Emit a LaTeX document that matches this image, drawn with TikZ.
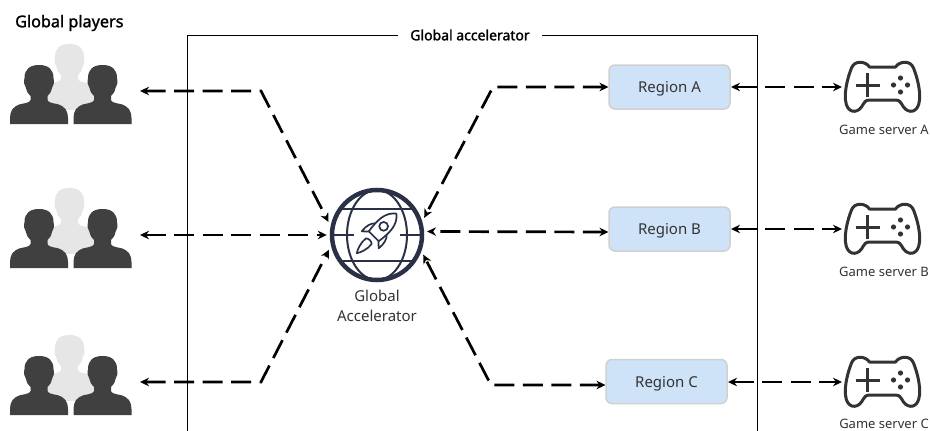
\documentclass[tikz,border=0pt]{standalone}
\usepackage{fontspec}
\setmainfont{Noto Sans}
\newfontfamily\heavyfont{Noto Sans}[FakeBold=1.6]
\usetikzlibrary{arrows.meta}
\definecolor{txt}{HTML}{333333}
\definecolor{dark}{HTML}{404040}
\definecolor{light}{HTML}{E6E6E6}
\definecolor{navy}{HTML}{2A3045}
\definecolor{regfill}{HTML}{CFE3F8}
\definecolor{regline}{HTML}{D0D0D0}
\tikzset{
  x=1pt,y=-1pt,
  link/.style={line width=2.7pt,dash pattern=on 20pt off 8.5pt,black,{Stealth[length=9pt,width=8.5pt]}-{Stealth[length=9pt,width=8.5pt]}},
  regionbox/.style={draw=regline,line width=1.5pt,fill=regfill,rounded corners=6pt,minimum width=121pt,minimum height=44pt,inner sep=0pt,text=txt,text height=13pt,text depth=2pt,font=\fontsize{15pt}{17pt}\selectfont},
  caption/.style={text=txt,font=\fontsize{13pt}{15pt}\selectfont,inner sep=0pt},
  boldlabel/.style={text=black,font=\heavyfont\fontsize{14pt}{16pt}\selectfont,inner sep=0pt},
  person/.pic={
    \fill (0,-59) .. controls (10,-59) and (14.5,-54) .. (14.5,-46) .. controls (15.5,-42) and (15,-39) .. (13,-36) .. controls (12,-32) and (11,-30) .. (8.5,-28) -- (8.5,-24) .. controls (9,-22) and (12,-21) .. (18,-20) .. controls (26,-18) and (29,-13) .. (29,-6) -- (29,0) -- (-29,0) -- (-29,-6) .. controls (-29,-13) and (-26,-18) .. (-18,-20) .. controls (-12,-21) and (-9,-22) .. (-8.5,-24) -- (-8.5,-28) .. controls (-11,-30) and (-12,-32) .. (-13,-36) .. controls (-15,-39) and (-15.5,-42) .. (-14.5,-46) .. controls (-14.5,-54) and (-10,-59) .. (0,-59) -- cycle;
  },
  crowd/.pic={
    \begin{scope}[shift={(69.5,-21)}]
      \pic[light] {person};
    \end{scope}
    \fill[light] (42,-24) rectangle (97,-14);
    \begin{scope}[shift={(39,0)}] \pic[dark] {person}; \end{scope}
    \begin{scope}[shift={(102.5,0)}] \pic[dark] {person}; \end{scope}
  },
  gamepad/.pic={
    \draw[txt,line width=3pt,line join=round] (-13,-20) -- (13,-20) .. controls (17,-26) and (28,-27) .. (31,-19) .. controls (35,-9) and (38,4) .. (37,13) .. controls (36,26) and (26,27) .. (21,20) .. controls (18,15) and (17,13) .. (13,13) -- (-13,13) .. controls (-17,13) and (-18,15) .. (-21,20) .. controls (-26,27) and (-36,26) .. (-37,13) .. controls (-38,4) and (-35,-9) .. (-31,-19) .. controls (-28,-27) and (-17,-26) .. (-13,-20) -- cycle;
    \draw[txt,line width=3pt] (-27,-2) -- (-3,-2) (-15,-14) -- (-15,10);
    \fill[txt] (18,-9) circle (2.6) (18,5) circle (2.6) (11,-2) circle (2.6) (25,-2) circle (2.6);
  }
}
\begin{document}
\begin{tikzpicture}
\useasboundingbox (0,0) rectangle (930,431);
\fill[white] (0,0) rectangle (930,431);

% frame
\draw[black,line width=1pt] (187,431) -- (187,35) -- (757,35) -- (757,431);
\node[boldlabel,fill=white,inner xsep=12pt,inner ysep=2pt] (frametitle) at (470,35) {Global accelerator};
\node[boldlabel,anchor=west,font=\heavyfont\fontsize{16.2pt}{18pt}\selectfont] (playerstitle) at (15,23) {Global players};

% players
\pic at (0,124) {crowd};
\pic at (0,268) {crowd};
\pic at (0,415) {crowd};

% globe
\node[circle,minimum size=100pt,inner sep=0pt] (ga) at (377,235) {};
\begin{scope}[shift={(377,235)}]
  \draw[navy,line width=1.8pt] (-37,-26) -- (37,-26) (-37,26) -- (37,26) (-44,0) -- (-23,0) (23,0) -- (44,0);
  \draw[navy,line width=2pt] (0,0) ellipse (30 and 45);
  \draw[navy,line width=4.5pt,fill=none] (0,0) circle (45);
  \begin{scope}[shift={(1,-3)},rotate=-45,line width=1.7pt,navy,line join=round]
    \draw (0,-26) .. controls (9,-19) and (9,-8) .. (7,6) -- (-7,6) .. controls (-9,-8) and (-9,-19) .. (0,-26) -- cycle;
    \draw (-8,-4) .. controls (-11,-2) and (-13,4) .. (-12,11) -- (-6.5,6) (8,-4) .. controls (11,-2) and (13,4) .. (12,11) -- (6.5,6);
    \draw (0,-8) circle (4.4);
    \draw (-4,13) .. controls (-5,20) and (-2,27) .. (0,30) .. controls (2,27) and (5,20) .. (4,13) .. controls (2,11) and (-2,11) .. (-4,13) -- cycle;
  \end{scope}
\end{scope}
\node[caption,align=center,font=\fontsize{15pt}{20pt}\selectfont] (galabel) at (377,306) {Global\\Accelerator};

% regions
\node[regionbox] (ra) at (669.5,87) {Region A};
\node[regionbox] (rb) at (669.5,229) {Region B};
\node[regionbox] (rc) at (666.5,381.5) {Region C};

% game servers
\pic at (882.5,87) {gamepad};
\pic at (882.5,229) {gamepad};
\pic at (882.5,382) {gamepad};
\node[caption] (gsa) at (884,130) {Game server A};
\node[caption] (gsb) at (884,272) {Game server B};
\node[caption] (gsc) at (884,423.5) {Game server C};

% named ends
\coordinate (p1) at (140,91);
\coordinate (p2) at (140,235);
\coordinate (p3) at (140,382);
\coordinate (b1) at (261,91);
\coordinate (b3) at (261,382);
\coordinate (b4) at (493,87);
\coordinate (b6) at (491,385);
\coordinate (s1) at (842,87);
\coordinate (s2) at (842,229);
\coordinate (s3) at (842,382);
\coordinate (r1) at (608.5,87);
\coordinate (r2) at (608.5,232);
\coordinate (r3) at (605.5,385);
\coordinate (q1) at (731,87);
\coordinate (q2) at (731,229);
\coordinate (q3) at (728,382);

% connectors
\draw[link] (p1) -- (b1) -- (ga.165);
\draw[link] (p2) -- (ga.180);
\draw[link] (p3) -- (b3) -- (ga.197);
\draw[link] (r1) -- (b4) -- (ga.20);
\draw[link] (r2) -- (ga.4);
\draw[link] (r3) -- (b6) -- (ga.-23);
\draw[link] (q1) -- (s1);
\draw[link] (q2) -- (s2);
\draw[link] (q3) -- (s3);
\end{tikzpicture}
\end{document}
